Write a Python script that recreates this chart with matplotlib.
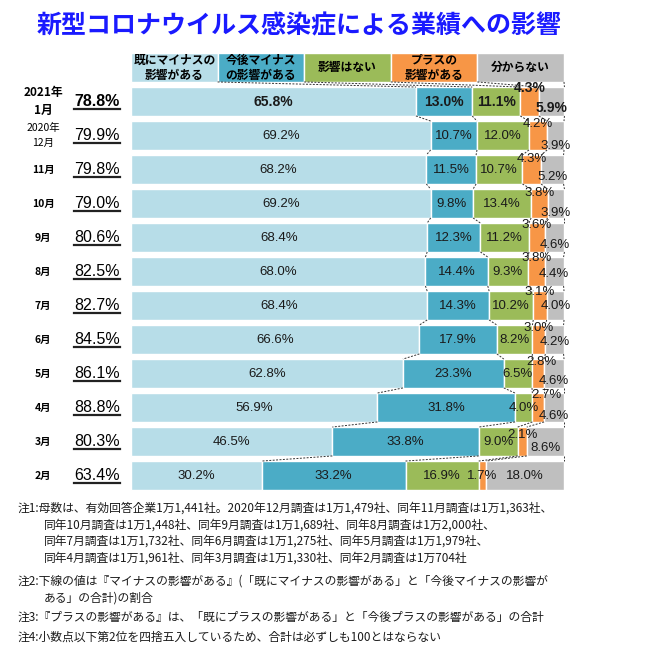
# 新型コロナウイルス感染症による業績への影響 (積み上げ横棒)

import matplotlib
matplotlib.use("Agg")
import matplotlib.pyplot as plt
from matplotlib.patches import Rectangle
import numpy as np

plt.rcParams['font.family'] = ['Noto Sans CJK JP', 'DejaVu Sans']

# データ
months = ["2021年\n1月", "2020年\n12月", "11月", "10月", "9月", "8月",
          "7月", "6月", "5月", "4月", "3月", "2月"]
minus_total = [78.8, 79.9, 79.8, 79.0, 80.6, 82.5, 82.7, 84.5, 86.1, 88.8, 80.3, 63.4]
already_minus = [65.8, 69.2, 68.2, 69.2, 68.4, 68.0, 68.4, 66.6, 62.8, 56.9, 46.5, 30.2]
future_minus = [13.0, 10.7, 11.5, 9.8, 12.3, 14.4, 14.3, 17.9, 23.3, 31.8, 33.8, 33.2]
no_effect = [11.1, 12.0, 10.7, 13.4, 11.2, 9.3, 10.2, 8.2, 6.5, 4.0, 9.0, 16.9]
plus = [4.3, 4.2, 4.3, 3.8, 3.6, 3.8, 3.1, 3.0, 2.8, 2.7, 2.1, 1.7]
unknown = [5.9, 3.9, 5.2, 3.9, 4.6, 4.4, 4.0, 4.2, 4.6, 4.6, 8.6, 18.0]

headers = ["既にマイナスの\n影響がある", "今後マイナス\nの影響がある", "影響はない",
           "プラスの\n影響がある", "分からない"]
colors = ["#b7dde8", "#4bacc6", "#9bbb59", "#f79646", "#bfbfbf"]

notes = [
    "注1:母数は、有効回答企業1万1,441社。2020年12月調査は1万1,479社、同年11月調査は1万1,363社、",
    "同年10月調査は1万1,448社、同年9月調査は1万1,689社、同年8月調査は1万2,000社、",
    "同年7月調査は1万1,732社、同年6月調査は1万1,275社、同年5月調査は1万1,979社、",
    "同年4月調査は1万1,961社、同年3月調査は1万1,330社、同年2月調査は1万704社",
    "注2:下線の値は『マイナスの影響がある』(「既にマイナスの影響がある」と「今後マイナスの影響が",
    "ある」の合計)の割合",
    "注3:『プラスの影響がある』は、「既にプラスの影響がある」と「今後プラスの影響がある」の合計",
    "注4:小数点以下第2位を四捨五入しているため、合計は必ずしも100とはならない",
]

# 小さいラベルのずらし (行単位 / x は%)
plus_dy = [-0.4, -0.34, -0.31, -0.31, -0.37, -0.4, -0.4, -0.34, -0.34, -0.36, -0.2, 0]
plus_dx = [0, 0, 0, 0, 0, 0, 0, 0, 0.8, 1.8, 0, 0]
unk_dy = [0.19, 0.32, 0.22, 0.28, 0.22, 0.07, 0.0, 0.07, 0.22, 0.25, 0.18, 0]

W, H = 645, 653
fig = plt.figure(figsize=(W / 100, H / 100), dpi=100)
ax = fig.add_axes([131 / W, 1 - 492.5 / H, 433 / W, 408 / H])
ax.set_xlim(0, 100)
ax.set_ylim(11.5, -0.5)
ax.axis("off")

series = np.array([already_minus, future_minus, no_effect, plus, unknown])
n = len(months)
y = np.arange(n)
h = 0.85
left = np.zeros(n)
for k in range(5):
    ax.barh(y, series[k], left=left, height=h, color=colors[k],
            edgecolor="white", linewidth=1)
    left = left + series[k]
cum = np.cumsum(series, axis=0)

# 見出し (20%ずつの帯)
for k in range(5):
    ax.add_patch(Rectangle((k * 20, -1 - h / 2), 20, h, facecolor=colors[k],
                           edgecolor="white", linewidth=1, clip_on=False))
    ax.text(k * 20 + 10, -1, headers[k], ha="center", va="center", fontsize=8.5,
            fontweight="bold", linespacing=1.2, clip_on=False)

# 区分線 (破線)
head_cum = np.arange(1, 6) * 20
for k in range(5):
    ax.plot([head_cum[k], cum[k, 0]], [-1 + h / 2, -h / 2], ls=(0, (2, 1.5)),
            color="#333333", lw=0.7, clip_on=False)
    for i in range(n - 1):
        ax.plot([cum[k, i], cum[k, i + 1]], [i + h / 2, i + 1 - h / 2],
                ls=(0, (2, 1.5)), color="#333333", lw=0.7, clip_on=False)

# 値ラベル
num_font = "Liberation Sans"
for i in range(n):
    wt = "bold" if i == 0 else "normal"
    fs = 10 if i == 0 else 9.5
    starts = cum[:, i] - series[:, i]
    for k in range(3):
        ax.text(starts[k] + series[k, i] / 2, i, f"{series[k, i]:.1f}%",
                ha="center", va="center", fontsize=fs, fontweight=wt,
                family=num_font, color="#1a1a1a")
    ax.text(starts[3] + series[3, i] / 2 + plus_dx[i], i + plus_dy[i],
            f"{series[3, i]:.1f}%", ha="center", va="center", fontsize=fs,
            fontweight=wt, family=num_font, color="#1a1a1a", clip_on=False)
    ax.text(starts[4] + series[4, i] / 2, i + unk_dy[i], f"{series[4, i]:.1f}%",
            ha="center", va="center", fontsize=fs, fontweight=wt,
            family=num_font, color="#1a1a1a", clip_on=False)

# 左側: 月ラベルと下線付きの値
def px2x(px):
    return (px - 131) / 433 * 100

for i in range(n):
    if i == 0:
        ax.text(px2x(43), i, months[i], ha="center", va="center", fontsize=8.5,
                fontweight="bold", linespacing=1.5, clip_on=False)
    elif i == 1:
        ax.text(px2x(43), i, months[i], ha="center", va="center", fontsize=7.5,
                linespacing=1.6, clip_on=False)
    else:
        ax.text(px2x(43), i, months[i], ha="center", va="center", fontsize=7.5,
                fontweight="bold", clip_on=False)
    ax.text(px2x(97), i, f"{minus_total[i]:.1f}%", ha="center", va="center",
            fontsize=11.5, family=num_font,
            fontweight="bold" if i == 0 else "normal", clip_on=False)
    ax.plot([px2x(74), px2x(120)], [i + 0.22, i + 0.22], color="#222222",
            lw=1.6, clip_on=False)

# タイトル
fig.text(299 / W, 1 - 26 / H, "新型コロナウイルス感染症による業績への影響",
         ha="center", va="center", fontsize=18, fontweight="bold", color="#1a1aff")

# 注記
note_y = [508, 525, 541, 558, 581, 598, 617, 637]
note_x = [18, 44, 44, 44, 18, 44, 18, 18]
for t, xx, yy in zip(notes, note_x, note_y):
    fig.text(xx / W, 1 - yy / H, t, ha="left", va="center", fontsize=8.5,
             color="#1a1a1a")

fig.savefig("out.png", dpi=100)
